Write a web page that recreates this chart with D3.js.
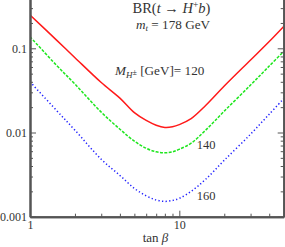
<!DOCTYPE html>
<html>
<head>
<meta charset="utf-8">
<script src="https://cdn.jsdelivr.net/npm/d3@7"></script>
<style>
  body { margin: 0; background: #fff; }
  svg { display: block; }
  .axis path, .axis line { stroke: #555; }
  .axis text { font-family: "Liberation Serif", serif; font-size: 12px; fill: #333; }
</style>
</head>
<body>
<div id="chart"></div>
<script>
// values
const tanBeta = [1, 1.5, 2, 3, 4, 5, 6, 7, 8, 9, 10, 12, 15, 20, 30, 40, 50];
const br120 = [0.249, 0.126, 0.0773, 0.0392, 0.0256, 0.0172, 0.0139, 0.0122, 0.01150, 0.0117, 0.0124, 0.0146, 0.0209, 0.0356, 0.0726, 0.1205, 0.182];
const br140 = [0.1374, 0.0632, 0.0376, 0.01745, 0.01094, 0.00788, 0.0065, 0.0059, 0.00575, 0.0059, 0.00633, 0.00746, 0.01065, 0.01795, 0.0366, 0.0615, 0.0916];
const br160 = [0.0400, 0.0184, 0.01065, 0.00481, 0.00309, 0.00217, 0.00177, 0.00158, 0.00152, 0.00156, 0.00165, 0.0020, 0.00278, 0.00468, 0.00955, 0.01652, 0.0252];

const xMajor = [1, 10];
const xMinor = [2, 3, 4, 5, 6, 7, 8, 9, 20, 30, 40];
const yMajor = [0.001, 0.01, 0.1];
const yMinor = [0.002, 0.003, 0.004, 0.005, 0.006, 0.007, 0.008, 0.009,
                0.02, 0.03, 0.04, 0.05, 0.06, 0.07, 0.08, 0.09, 0.2, 0.3];
const yLabels = ["0.001", "0.01", "0.1"];

const width = 285, height = 247;
const left = 30, right = 283.7, bottom = 216.7;

const x = d3.scaleLog().domain([1, 50]).range([left, right]);
const y = d3.scaleLog().domain([0.001, 0.1]).range([bottom, 48.3]);

const svg = d3.select("#chart").append("svg")
    .attr("width", width)
    .attr("height", height);

// curves
const line = d3.line()
    .x(d => x(d[0]))
    .y(d => y(d[1]))
    .curve(d3.curveCatmullRom.alpha(0.5));

const series = [
    {vals: br120, color: "#ff1a1a", dash: null},
    {vals: br140, color: "#1ee61e", dash: "3,1.4"},
    {vals: br160, color: "#2222ff", dash: "1.3,2.3"}
];

svg.append("defs").append("clipPath").attr("id", "clip")
    .append("rect").attr("x", left).attr("y", -5).attr("width", right - left).attr("height", bottom + 5);

series.forEach(s => {
    svg.append("path")
        .datum(tanBeta.map((t, i) => [t, s.vals[i]]))
        .attr("clip-path", "url(#clip)")
        .attr("d", line)
        .attr("fill", "none")
        .attr("stroke", s.color)
        .attr("stroke-width", 1.5)
        .attr("stroke-dasharray", s.dash);
});

// axes
const yTop = 0.42;
const yFull = d3.scaleLog().domain([0.001, yTop]).range([bottom, y(yTop)]);

svg.append("g").attr("class", "axis")
    .attr("transform", `translate(${left},0)`)
    .call(d3.axisLeft(yFull).tickValues(yMinor).tickSizeInner(-3).tickSizeOuter(0).tickFormat(""));
svg.append("g").attr("class", "axis")
    .attr("transform", `translate(${left},0)`)
    .call(d3.axisLeft(yFull).tickValues(yMajor).tickSizeInner(-6).tickSizeOuter(0).tickPadding(3)
        .tickFormat((d, i) => yLabels[i]));

svg.append("g").attr("class", "axis")
    .attr("transform", `translate(${right},0)`)
    .call(d3.axisRight(yFull).tickValues(yMinor).tickSizeInner(-3).tickSizeOuter(0).tickFormat(""));
svg.append("g").attr("class", "axis")
    .attr("transform", `translate(${right},0)`)
    .call(d3.axisRight(yFull).tickValues(yMajor).tickSizeInner(-6).tickSizeOuter(0).tickFormat(""));

svg.append("g").attr("class", "axis")
    .attr("transform", `translate(0,${bottom})`)
    .call(d3.axisBottom(x).tickValues(xMinor).tickSizeInner(-3).tickSizeOuter(0).tickFormat(""));
svg.append("g").attr("class", "axis")
    .attr("transform", `translate(0,${bottom})`)
    .call(d3.axisBottom(x).tickValues(xMajor).tickSizeInner(-6).tickSizeOuter(0).tickPadding(4)
        .tickFormat(d3.format("d")));

svg.selectAll(".axis path.domain").attr("stroke-width", 2);

// texts
const font = "Liberation Serif, serif";

const title = svg.append("text")
    .attr("x", 132.5).attr("y", 12.7)
    .attr("font-family", font).attr("font-size", 14.5).attr("fill", "#333");
title.append("tspan").text("BR(");
title.append("tspan").attr("font-style", "italic").text("t");
title.append("tspan").text(" \u2192 ");
title.append("tspan").attr("font-style", "italic").text("H");
title.append("tspan").attr("font-size", 9.5).attr("dy", -5).text("+");
title.append("tspan").attr("font-style", "italic").attr("dy", 5).text("b");
title.append("tspan").text(")");

const mt = svg.append("text")
    .attr("x", 136).attr("y", 29)
    .attr("font-family", font).attr("font-size", 13.2).attr("fill", "#333");
mt.append("tspan").attr("font-style", "italic").text("m");
mt.append("tspan").attr("font-style", "italic").attr("font-size", 9).attr("dy", 2).text("t");
mt.append("tspan").attr("dy", -2).text(" = 178 GeV");

const mh = svg.append("text")
    .attr("x", 115).attr("y", 75)
    .attr("font-family", font).attr("font-size", 13.2).attr("fill", "#333");
mh.append("tspan").attr("font-style", "italic").text("M");
mh.append("tspan").attr("font-style", "italic").attr("font-size", 9).attr("dy", 2.5).text("H");
mh.append("tspan").attr("font-size", 8).attr("dy", -2.5).text("\u00b1");
mh.append("tspan").text(" [GeV]= 120");

svg.append("text").attr("x", 196.7).attr("y", 149)
    .attr("font-family", font).attr("font-size", 12.5).attr("fill", "#333").text("140");
svg.append("text").attr("x", 196.7).attr("y", 200)
    .attr("font-family", font).attr("font-size", 12.5).attr("fill", "#333").text("160");

const xl = svg.append("text")
    .attr("x", 142.7).attr("y", 241.5)
    .attr("font-family", font).attr("font-size", 13).attr("fill", "#333");
xl.append("tspan").text("tan ");
xl.append("tspan").attr("font-style", "italic").text("\u03b2");
</script>
</body>
</html>
